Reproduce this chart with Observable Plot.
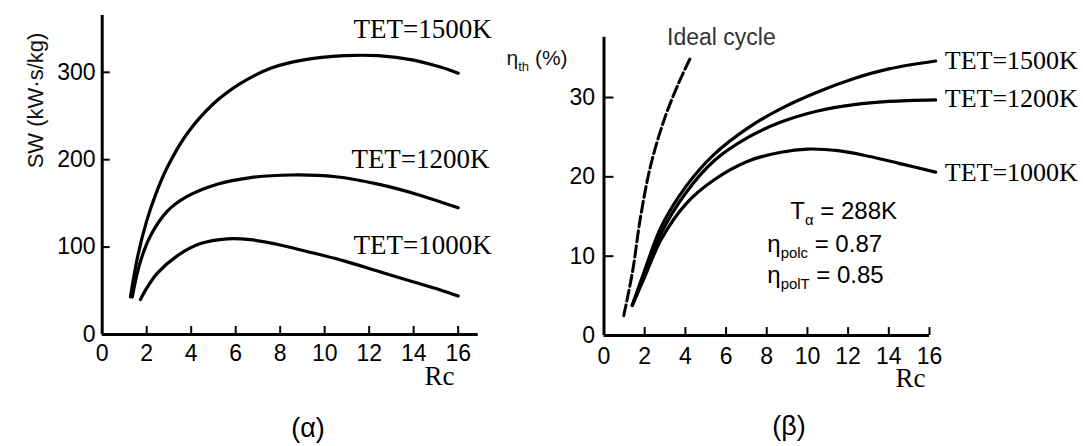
<!DOCTYPE html>
<html>
<head>
<meta charset="utf-8">
<script src="https://cdn.jsdelivr.net/npm/d3@7"></script>
<script src="https://cdn.jsdelivr.net/npm/@observablehq/plot@0.6"></script>
<style>
  html, body { margin: 0; padding: 0; background: #fff; }
  #wrap { position: relative; width: 1083px; height: 446px; overflow: hidden; background: #fff; }
  #left { position: absolute; left: 0; top: 0; }
  #right { position: absolute; left: 503px; top: 0; }
  .cap { position: absolute; font-family: "Liberation Sans", Arial, sans-serif; font-size: 27px; color: #000;
         transform: translate(-50%, -50%); white-space: nowrap; }
</style>
</head>
<body>
<div id="wrap">
  <div id="left"></div>
  <div id="right"></div>
  <div class="cap" style="left:308px; top:428px;">(α)</div>
  <div class="cap" style="left:789px; top:426px;">(β)</div>
</div>
<script>
// ---------- Data ----------
const seriesNames = ["TET=1500K", "TET=1200K", "TET=1000K"];

// Panel (α): specific work SW (kW·s/kg) vs compressor pressure ratio Rc
const swRc1500 = [1.27, 1.6, 2.0, 2.4, 2.92, 3.82, 5.0, 6.2, 7.6, 9.0, 10.9, 12.4, 14.0, 15.2, 16.0];
const sw1500   = [43, 90, 130, 160, 191, 230, 264, 287, 305, 314, 319, 319, 314, 306, 299];
const swRc1200 = [1.35, 1.7, 2.17, 2.92, 3.82, 5.17, 6.67, 8.5, 10.5, 12.4, 14.2, 15.65, 16.0];
const sw1200   = [43, 82, 113, 141, 158, 172, 179.5, 182.5, 180.5, 172, 160, 148, 145];
const swRc1000 = [1.72, 2.0, 2.47, 3.37, 4.42, 5.62, 6.67, 7.8, 9.2, 10.9, 12.44, 14.0, 15.2, 16.0];
const sw1000   = [40, 53, 70, 90, 104, 109.5, 108.5, 103.5, 95, 84, 72, 60, 51, 44];

// Panel (β): thermal efficiency ηth (%) vs Rc
const efRc1500 = [1.39, 1.97, 2.83, 4.03, 5.4, 7.1, 8.7, 10.5, 12.3, 14.0, 16.3];
const ef1500   = [3.8, 8.0, 13.8, 18.8, 22.8, 26.2, 28.6, 30.7, 32.4, 33.6, 34.6];
const efRc1200 = [1.39, 1.97, 2.83, 4.03, 5.4, 7.1, 8.7, 10.5, 12.3, 14.0, 16.3];
const ef1200   = [3.8, 7.6, 13.0, 18.0, 22.0, 25.0, 26.9, 28.3, 29.1, 29.5, 29.7];
const efRc1000 = [1.39, 1.97, 2.83, 4.03, 5.4, 7.1, 8.7, 10.0, 11.5, 13.0, 14.5, 16.3];
const ef1000   = [3.8, 7.2, 12.2, 16.6, 19.6, 22.0, 23.1, 23.5, 23.3, 22.6, 21.7, 20.6];
const idealRc  = [0.97, 1.4, 1.8, 2.3, 3.0, 3.7, 4.25];
const idealEf  = [2.5, 8.0, 15.0, 21.5, 27.5, 32.0, 35.0];

// Ticks
const rcTicks  = [0, 2, 4, 6, 8, 10, 12, 14, 16];
const swTicks  = [0, 100, 200, 300];
const efTicks  = [0, 10, 20, 30];

// Annotations
const condTexts = ["T_{α} = 288K", "η_{polc} = 0.87", "η_{polT} = 0.85"];

// ---------- Build tables ----------
function table(names, xs, ys) {
  const out = [];
  names.forEach((n, k) => xs[k].forEach((x, i) => out.push({series: n, rc: x, v: ys[k][i]})));
  return out;
}
const swData = table(seriesNames, [swRc1500, swRc1200, swRc1000], [sw1500, sw1200, sw1000]);
const efData = table(seriesNames, [efRc1500, efRc1200, efRc1000], [ef1500, ef1200, ef1000]);
const idealData = idealRc.map((x, i) => ({rc: x, v: idealEf[i]}));

const SANS = "'Liberation Sans', Arial, sans-serif";
const SERIF = "'Liberation Serif', 'Times New Roman', serif";

// subscript markup: "_{...}" -> tspan
function applySubs(svg) {
  svg.querySelectorAll("text").forEach(t => {
    const s = t.textContent;
    if (!s.includes("_{")) return;
    const parts = s.split(/(_\{[^}]*\})/);
    t.textContent = "";
    let shifted = false;
    for (const p of parts) {
      if (!p) continue;
      const ts = document.createElementNS("http://www.w3.org/2000/svg", "tspan");
      if (p.startsWith("_{")) {
        ts.textContent = p.slice(2, -1);
        ts.setAttribute("font-size", "0.62em");
        ts.setAttribute("dy", "6");
        shifted = true;
      } else {
        ts.textContent = p;
        if (shifted) { ts.setAttribute("dy", "-6"); shifted = false; }
      }
      t.appendChild(ts);
    }
  });
}

const nonZero = a => a.filter(v => v !== 0);

// ---------- Panel (α) ----------
const left = Plot.plot({
  width: 503, height: 400,
  marginLeft: 101.7, marginRight: 25.3, marginTop: 15, marginBottom: 66,
  style: {fontFamily: SANS, fontSize: "23px", color: "#000", background: "transparent", overflow: "visible"},
  x: {domain: [0, 16.9]},
  y: {domain: [0, 365]},
  marks: [
    Plot.axisX({ticks: rcTicks, tickSize: 0, tickPadding: 10, label: null, fontSize: 23, fontFamily: SANS}),
    Plot.axisY({ticks: swTicks, tickSize: 0, tickPadding: 6.7, label: null, fontSize: 23, fontFamily: SANS}),
    Plot.ruleX(nonZero(rcTicks), {y1: 0, y2: 9.2, stroke: "#000", strokeWidth: 2}),
    Plot.ruleY(nonZero(swTicks), {x1: 0, x2: 0.36, stroke: "#000", strokeWidth: 2}),
    Plot.ruleX([0], {stroke: "#000", strokeWidth: 3}),
    Plot.ruleY([0], {stroke: "#000", strokeWidth: 3}),
    Plot.line(swData, {x: "rc", y: "v", z: "series", stroke: "#000", strokeWidth: 3.2, curve: "catmull-rom"}),
    Plot.text([seriesNames[0]], {x: 11.3, y: 349, text: d => d, textAnchor: "start", fontFamily: SERIF, fontSize: 27, fill: "#000"}),
    Plot.text([seriesNames[1]], {x: 11.2, y: 200, text: d => d, textAnchor: "start", fontFamily: SERIF, fontSize: 27, fill: "#000"}),
    Plot.text([seriesNames[2]], {x: 11.3, y: 102, text: d => d, textAnchor: "start", fontFamily: SERIF, fontSize: 27, fill: "#000"}),
    Plot.text(["Rc"], {frameAnchor: "bottom-right", dx: -38.7, dy: 50, textAnchor: "middle", fontFamily: SERIF, fontSize: 27, fill: "#000"}),
    Plot.text(["SW (kW·s/kg)"], {frameAnchor: "top-left", dx: -75, dy: 85, rotate: -90, textAnchor: "middle", fontFamily: SANS, fontSize: 22, fill: "#111"})
  ]
});
document.getElementById("left").appendChild(left);

// ---------- Panel (β) ----------
const right = Plot.plot({
  width: 580, height: 400,
  marginLeft: 100.5, marginRight: 154, marginTop: 36.7, marginBottom: 65,
  style: {fontFamily: SANS, fontSize: "23px", color: "#000", background: "transparent", overflow: "visible"},
  x: {domain: [0, 16]},
  y: {domain: [0, 37.6]},
  marks: [
    Plot.axisX({ticks: rcTicks, tickSize: 0, tickPadding: 12, label: null, fontSize: 23, fontFamily: SANS}),
    Plot.axisY({ticks: efTicks, tickSize: 0, tickPadding: 9, label: null, fontSize: 23, fontFamily: SANS}),
    Plot.ruleX(nonZero(rcTicks), {y1: 0, y2: 1.0, stroke: "#000", strokeWidth: 2}),
    Plot.ruleY(nonZero(efTicks), {x1: 0, x2: 0.49, stroke: "#000", strokeWidth: 2}),
    Plot.ruleX([0], {stroke: "#000", strokeWidth: 3}),
    Plot.ruleY([0], {stroke: "#000", strokeWidth: 3}),
    Plot.line(idealData, {x: "rc", y: "v", stroke: "#000", strokeWidth: 3, strokeDasharray: "11,4", curve: "catmull-rom"}),
    Plot.line(efData, {x: "rc", y: "v", z: "series", stroke: "#000", strokeWidth: 3.2, curve: "catmull-rom"}),
    Plot.text([seriesNames[0]], {x: 16.75, y: 34.6, text: d => d, textAnchor: "start", fontFamily: SERIF, fontSize: 26, fill: "#000"}),
    Plot.text([seriesNames[1]], {x: 16.75, y: 29.8, text: d => d, textAnchor: "start", fontFamily: SERIF, fontSize: 26, fill: "#000"}),
    Plot.text([seriesNames[2]], {x: 16.75, y: 20.5, text: d => d, textAnchor: "start", fontFamily: SERIF, fontSize: 26, fill: "#000"}),
    Plot.text(["Ideal cycle"], {x: 3.1, y: 37.5, textAnchor: "start", fontFamily: SANS, fontSize: 23, fill: "#333"}),
    Plot.text(["η_{th} (%)"], {x: -4.79, y: 35.0, textAnchor: "start", fontFamily: SANS, fontSize: 21, fill: "#111"}),
    Plot.text([condTexts[0]], {x: 9.16, y: 15.7, textAnchor: "start", fontFamily: SANS, fontSize: 24, fill: "#000"}),
    Plot.text([condTexts[1]], {x: 8.03, y: 11.5, textAnchor: "start", fontFamily: SANS, fontSize: 24, fill: "#000"}),
    Plot.text([condTexts[2]], {x: 8.03, y: 7.6, textAnchor: "start", fontFamily: SANS, fontSize: 24, fill: "#000"}),
    Plot.text(["Rc"], {frameAnchor: "bottom-right", dx: -19, dy: 51.6, textAnchor: "middle", fontFamily: SERIF, fontSize: 27, fill: "#000"})
  ]
});
document.getElementById("right").appendChild(right);

applySubs(left);
applySubs(right);
</script>
</body>
</html>
